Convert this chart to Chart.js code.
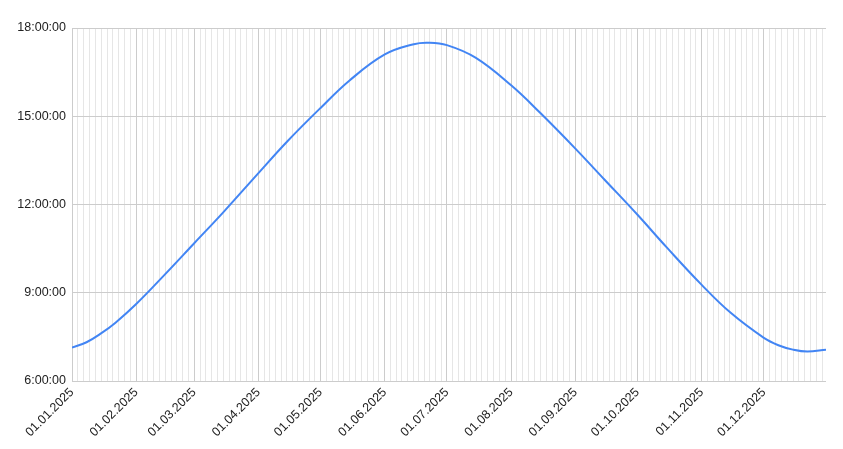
<!DOCTYPE html>
<html>
<head>
<meta charset="utf-8">
<script src="https://cdn.jsdelivr.net/npm/chart.js@4"></script>
<style>
  html, body { margin: 0; padding: 0; background: #fff; }
  #wrap { width: 843px; height: 449px; }
</style>
</head>
<body>
<div id="wrap"><canvas id="grafico"></canvas></div>
<script>
// dates (2025) and day length
const dates = ['01.01', '08.01', '15.01', '22.01', '01.02', '15.02', '01.03', '15.03', '01.04', '15.04',
  '01.05', '15.05', '01.06', '15.06', '22.06', '01.07', '15.07', '01.08', '15.08', '01.09',
  '15.09', '01.10', '15.10', '01.11', '15.11', '01.12', '08.12', '15.12', '22.12', '31.12'];
const dayLength = ['7:08', '7:19', '7:37', '7:59', '8:37', '9:38', '10:41', '11:44', '13:04', '14:09',
  '15:17', '16:13', '17:06', '17:27', '17:30', '17:25', '16:59', '16:03', '15:07', '13:54',
  '12:51', '11:39', '10:33', '9:16', '8:19', '7:28', '7:13', '7:04', '7:00', '7:04'];
const monthLabels = ['01.01.2025', '01.02.2025', '01.03.2025', '01.04.2025', '01.05.2025', '01.06.2025',
  '01.07.2025', '01.08.2025', '01.09.2025', '01.10.2025', '01.11.2025', '01.12.2025'];
const yTicks = [6, 9, 12, 15, 18];

// helpers
function diaDoAno(s) {
  const [d, m] = s.split('.').map(Number);
  return (Date.UTC(2025, m - 1, d) - Date.UTC(2025, 0, 1)) / 86400000;
}
function horas(s) {
  const [h, m] = s.split(':').map(Number);
  return h + m / 60;
}

const pontos = dates.map((d, i) => ({ x: diaDoAno(d), y: horas(dayLength[i]) }));
const inicioMes = monthLabels.map(diaDoAno);

// minor vertical gridlines: about every 2.8 days inside each month
const ticksX = [];
for (let i = 0; i < inicioMes.length; i++) {
  const a = inicioMes[i];
  const b = i + 1 < inicioMes.length ? inicioMes[i + 1] : 365;
  const n = Math.round((b - a) / 2.8);
  for (let k = 0; k < n; k++) {
    const v = a + (b - a) * k / n;
    if (v <= 364) ticksX.push(v);
  }
}

const fonte = { family: '"Liberation Sans", Arial, sans-serif', size: 12.5 };

new Chart(document.getElementById('grafico').getContext('2d'), {
  type: 'line',
  data: {
    datasets: [{
      data: pontos,
      borderColor: '#4285f4',
      borderWidth: 2,
      pointRadius: 0,
      tension: 0.4,
      fill: false
    }]
  },
  options: {
    responsive: true,
    maintainAspectRatio: false,
    animation: false,
    layout: { padding: { left: 0, right: 17, top: 28, bottom: 0 } },
    plugins: { legend: { display: false }, tooltip: { enabled: false } },
    scales: {
      x: {
        type: 'linear',
        min: 0,
        max: 364,
        afterBuildTicks: function(scale) {
          scale.ticks = ticksX.map(v => ({ value: v }));
        },
        afterFit: function(scale) { scale.height = 68; },
        grid: {
          drawTicks: false,
          color: function(ctx) {
            if (!ctx.tick) return '#e6e6e6';
            return inicioMes.includes(ctx.tick.value) ? '#cccccc' : '#e6e6e6';
          },
          lineWidth: 1
        },
        border: { display: false },
        ticks: {
          autoSkip: false,
          maxRotation: 45,
          minRotation: 45,
          padding: 4,
          color: '#222',
          font: fonte,
          callback: function(value) {
            const i = inicioMes.indexOf(value);
            return i >= 0 ? monthLabels[i] : '';
          }
        }
      },
      y: {
        min: 6,
        max: 18,
        afterBuildTicks: function(scale) {
          scale.ticks = yTicks.map(v => ({ value: v }));
        },
        afterFit: function(scale) { scale.width = 72; },
        grid: { drawTicks: false, color: '#cccccc' },
        border: { display: false },
        ticks: {
          padding: 6,
          color: '#222',
          font: fonte,
          callback: v => v + ':00:00'
        }
      }
    }
  }
});
</script>
</body>
</html>
